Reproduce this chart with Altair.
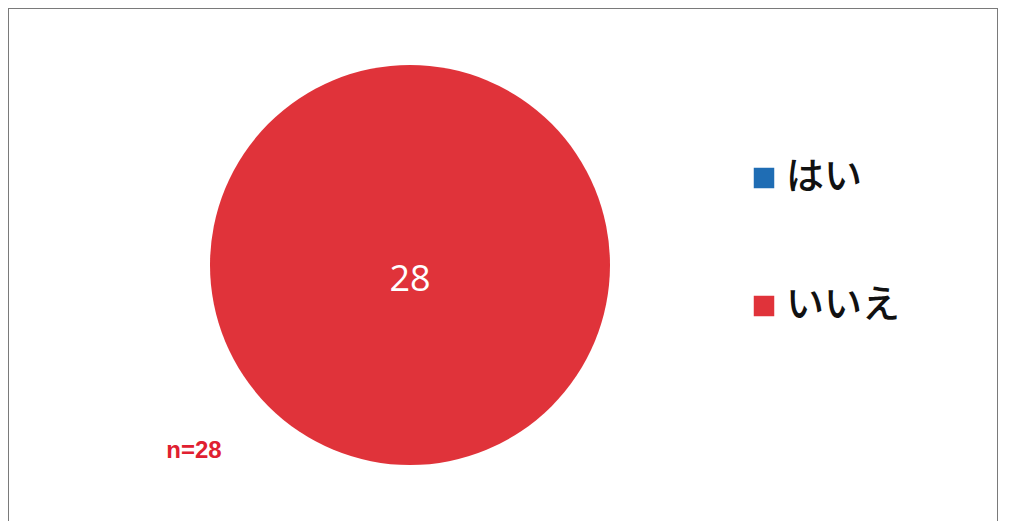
import altair as alt
import pandas as pd

categories = ["はい", "いいえ"]
counts = [0, 28]
colors = ["#1f6db4", "#e0333a"]

df = pd.DataFrame({"answer": categories, "count": counts, "order": [0, 1]})
total = sum(counts)
df["n_label"] = f"n={total}"

cx, cy, r = 402, 257, 200

base = alt.Chart(df)

pie = base.mark_arc(radius=r, strokeWidth=0).encode(
    theta=alt.Theta("count:Q", stack=True),
    order=alt.Order("order:Q"),
    color=alt.Color(
        "answer:N",
        scale=alt.Scale(domain=categories, range=colors),
        sort=categories,
        legend=alt.Legend(
            title=None,
            orient="none",
            legendX=737,
            legendY=151,
            symbolType="square",
            symbolSize=420,
            symbolStrokeWidth=0,
            labelFontSize=38,
            labelFont="Noto Sans CJK JP",
            labelFontWeight=500,
            labelColor="#111111",
            labelOffset=3,
            rowPadding=90,
            labelLimit=300,
        ),
    ),
    x=alt.value(cx),
    y=alt.value(cy),
)

label = base.transform_filter("datum.count > 0").mark_text(
    fontSize=36, color="#ffffff", font="Open Sans"
).encode(
    text="count:Q",
    x=alt.value(cx),
    y=alt.value(cy + 15),
)

ntext = base.transform_filter("datum.order == 0").mark_text(
    fontSize=24, fontWeight="bold", color="#e02030", font="Liberation Sans"
).encode(
    text="n_label:N",
    x=alt.value(186),
    y=alt.value(443),
)

chart = alt.layer(pie, label, ntext).properties(
    width=990,
    height=515,
    autosize=alt.AutoSizeParams(type="none"),
    padding=0,
    background="#ffffff",
).configure_view(stroke="#7a7a7a", strokeWidth=2)

chart.save("out.html", embed_options={"renderer": "svg", "actions": False})
